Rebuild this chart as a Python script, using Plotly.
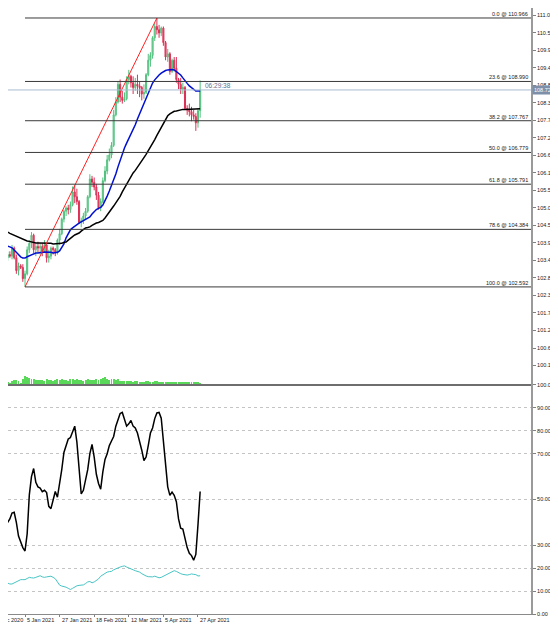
import plotly.graph_objects as go
import pandas as pd

# daily bars, 14 Dec 2020 .. 28 Apr 2021
dates = pd.bdate_range("2020-12-14", periods=98)

opens = [104.05, 103.95, 103.60, 103.55, 103.10, 103.35, 103.30, 103.65, 103.50, 103.60,
         103.55, 103.80, 103.50, 103.10, 103.25, 103.20, 102.85, 103.00, 103.75, 103.95,
         104.20, 103.75, 103.85, 103.80, 103.85, 103.70, 103.90, 103.50, 103.55, 103.80,
         103.75, 103.65, 104.05, 104.25, 104.70, 104.95, 105.05, 105.00, 105.15, 105.55,
         105.40, 105.25, 104.60, 104.65, 104.80, 104.95, 105.40, 105.95, 105.85, 105.70,
         105.45, 105.05, 105.25, 105.90, 106.20, 106.55, 106.70, 107.00, 107.95, 108.35,
         108.90, 108.50, 108.40, 108.45, 109.05, 109.15, 108.95, 108.80, 108.90, 108.85,
         108.80, 108.60, 108.65, 109.20, 109.65, 109.80, 110.35, 110.70, 110.60, 110.50,
         110.65, 110.20, 109.75, 109.85, 109.30, 109.65, 109.40, 109.05, 108.90, 108.75,
         108.80, 108.15, 108.10, 108.05, 107.95, 107.90, 107.70, 108.08]
highs = [104.20, 104.05, 103.80, 103.60, 103.45, 103.75, 103.70, 103.85, 103.70, 103.70,
         103.90, 103.85, 103.60, 103.35, 103.30, 103.30, 103.10, 103.85, 104.05, 104.30,
         104.25, 103.95, 104.00, 103.95, 103.95, 104.05, 103.95, 103.75, 103.85, 103.85,
         103.80, 104.10, 104.40, 104.75, 105.00, 105.10, 105.15, 105.25, 105.72, 105.75,
         105.65, 105.30, 104.75, 104.90, 105.05, 105.45, 106.10, 106.05, 106.00, 105.80,
         105.55, 105.35, 106.00, 106.35, 106.70, 106.90, 107.10, 108.10, 108.50, 109.00,
         109.05, 108.70, 108.65, 109.15, 109.35, 109.20, 109.15, 109.10, 109.20, 109.00,
         108.85, 108.90, 109.25, 109.85, 109.90, 110.40, 110.80, 110.966, 110.75, 110.70,
         110.70, 110.25, 110.00, 109.90, 109.70, 109.75, 109.75, 109.10, 109.10, 108.95,
         108.85, 108.25, 108.30, 108.20, 108.10, 108.00, 108.15, 109.02]
lows = [103.85, 103.55, 103.45, 102.95, 103.00, 103.15, 103.25, 103.45, 103.40, 103.50,
        103.45, 103.45, 103.00, 102.95, 103.15, 102.75, 102.592, 102.95, 103.65, 103.80,
        103.65, 103.55, 103.65, 103.60, 103.55, 103.65, 103.35, 103.35, 103.45, 103.60,
        103.55, 103.60, 103.90, 104.20, 104.60, 104.80, 104.85, 104.90, 105.10, 105.20,
        105.15, 104.55, 104.45, 104.55, 104.70, 104.90, 105.35, 105.70, 105.60, 105.30,
        105.00, 104.95, 105.20, 105.85, 106.10, 106.50, 106.60, 106.95, 107.90, 108.30,
        108.35, 108.30, 108.35, 108.40, 108.90, 108.80, 108.60, 108.70, 108.60, 108.50,
        108.40, 108.45, 108.60, 109.15, 109.45, 109.70, 110.25, 110.45, 110.35, 110.40,
        110.10, 109.65, 109.60, 109.20, 109.25, 109.30, 108.95, 108.75, 108.60, 108.60,
        108.10, 107.95, 107.90, 107.75, 107.80, 107.45, 107.55, 107.86]
closes = [103.95, 103.60, 103.55, 103.10, 103.35, 103.30, 103.65, 103.50, 103.60, 103.55,
          103.80, 103.50, 103.10, 103.25, 103.20, 102.85, 103.00, 103.75, 103.95, 104.20,
          103.75, 103.85, 103.80, 103.85, 103.70, 103.90, 103.50, 103.55, 103.80, 103.75,
          103.65, 104.05, 104.25, 104.70, 104.95, 105.05, 105.00, 105.15, 105.55, 105.40,
          105.25, 104.60, 104.65, 104.80, 104.95, 105.40, 105.95, 105.85, 105.70, 105.45,
          105.05, 105.25, 105.90, 106.20, 106.55, 106.70, 107.00, 107.95, 108.35, 108.90,
          108.50, 108.40, 108.45, 109.05, 109.15, 108.95, 108.80, 108.90, 108.85, 108.80,
          108.60, 108.65, 109.20, 109.65, 109.80, 110.35, 110.70, 110.60, 110.50, 110.65,
          110.20, 109.75, 109.85, 109.30, 109.65, 109.40, 109.05, 108.90, 108.75, 108.80,
          108.15, 108.10, 108.05, 107.95, 107.90, 107.70, 108.08, 108.725]

volumes = [90000, 95000, 100000, 105000, 85000, 80000, 95000, 90000, 60000, 40000,
           75000, 85000, 95000, 80000, 35000, 110000, 160000, 140000, 120000, 100000,
           105000, 95000, 90000, 85000, 95000, 70000, 100000, 90000, 85000, 80000,
           85000, 110000, 95000, 115000, 90000, 85000, 80000, 115000, 100000, 85000,
           110000, 90000, 85000, 80000, 95000, 105000, 90000, 95000, 85000, 100000,
           95000, 110000, 120000, 145000, 105000, 90000, 100000, 115000, 95000, 110000,
           80000, 75000, 70000, 80000, 75000, 70000, 60000, 65000, 70000, 60000,
           55000, 60000, 65000, 70000, 55000, 60000, 70000, 65000, 50000, 45000,
           55000, 60000, 55000, 60000, 50000, 55000, 60000, 55000, 50000, 45000,
           55000, 50000, 45000, 50000, 45000, 50000, 55000, 35000]

# moving averages as plotted (fast = blue, slow = black)
ma_fast = [104.05, 104.03, 104.00, 103.98, 103.96, 103.95, 103.91, 103.88, 103.87, 103.84,
           103.81, 103.74, 103.67, 103.59, 103.53, 103.49, 103.49, 103.53, 103.56, 103.59,
           103.62, 103.65, 103.65, 103.67, 103.67, 103.68, 103.68, 103.68, 103.67, 103.65,
           103.65, 103.67, 103.71, 103.81, 103.93, 104.12, 104.24, 104.37, 104.43, 104.49,
           104.55, 104.58, 104.62, 104.66, 104.71, 104.74, 104.77, 104.86, 104.94, 105.00,
           105.04, 105.07, 105.14, 105.27, 105.42, 105.58, 105.74, 105.92, 106.11, 106.33,
           106.55, 106.73, 106.92, 107.07, 107.20, 107.36, 107.51, 107.64, 107.82, 107.98,
           108.10, 108.29, 108.48, 108.63, 108.79, 108.94, 109.04, 109.13, 109.19, 109.25,
           109.30, 109.33, 109.35, 109.36, 109.36, 109.35, 109.30, 109.25, 109.19, 109.10,
           109.00, 108.93, 108.85, 108.79, 108.74, 108.69, 108.69, 108.69]
ma_slow = [104.56, 104.53, 104.50, 104.47, 104.44, 104.41, 104.37, 104.33, 104.30, 104.26,
           104.23, 104.19, 104.16, 104.13, 104.10, 104.07, 104.05, 104.02, 104.01, 103.99,
           103.98, 103.96, 103.96, 103.96, 103.95, 103.95, 103.95, 103.95, 103.95, 103.93,
           103.93, 103.93, 103.93, 103.95, 103.98, 103.99, 104.05, 104.12, 104.16, 104.21,
           104.24, 104.27, 104.33, 104.38, 104.43, 104.44, 104.46, 104.51, 104.55, 104.58,
           104.60, 104.63, 104.66, 104.74, 104.83, 104.90, 104.99, 105.11, 105.21, 105.30,
           105.41, 105.55, 105.67, 105.78, 105.92, 106.05, 106.14, 106.22, 106.33, 106.42,
           106.51, 106.62, 106.72, 106.83, 106.93, 107.06, 107.18, 107.31, 107.43, 107.57,
           107.70, 107.82, 107.92, 107.98, 108.02, 108.06, 108.07, 108.09, 108.10, 108.12,
           108.12, 108.12, 108.12, 108.12, 108.12, 108.12, 108.13, 108.14]

# lower window oscillators
osc_main = [35, 31, 28, 28.5, 29, 31, 34, 40.5, 40, 41.5,
            44.1, 44.4, 40, 34, 31.5, 29, 27.5, 35, 52, 60,
            63.5, 57.5, 55.5, 55, 53.4, 54, 53, 47, 46, 50.5,
            53.5, 51, 56.5, 63, 70.5, 74, 76.4, 77, 79.5, 82,
            75, 62, 52.4, 54, 58.5, 63, 70, 74, 68.5, 61,
            57, 54.5, 62, 67.5, 70, 73.5, 75.5, 77.5, 82, 85,
            87.5, 88, 85, 82, 83, 84.5, 82, 81.2, 79, 75.5,
            71.5, 67, 68.5, 73.5, 79, 81.2, 85.3, 87.8, 88, 85.5,
            76, 66, 55.5, 51.8, 53.2, 51.8, 49, 41.5, 37.5, 37.1,
            32.5, 29, 26.5, 25.5, 23.5, 26, 39, 53.5]
osc_signal = [17.5, 17.0, 16.5, 16.0, 15.6, 15.4, 14.2, 13.8, 13.4, 13.1,
              13.1, 13.5, 14.0, 14.5, 15.0, 15.0, 15.0, 15.5, 16.0, 15.8,
              15.7, 16.0, 16.4, 16.7, 16.2, 16.0, 16.2, 16.4, 16.5, 16.0,
              15.4, 14.0, 12.6, 12.2, 12.0, 11.7, 11.2, 10.7, 11.2, 11.8,
              12.3, 12.5, 12.6, 12.7, 13.3, 14.0, 14.2, 13.6, 14.0, 14.5,
              15.3, 16.5, 17.2, 17.8, 18.3, 18.5, 18.6, 19.3, 19.8, 20.2,
              20.5, 20.8, 21.0, 20.5, 20.2, 19.8, 19.3, 18.9, 18.6, 18.3,
              17.6, 17.0, 16.6, 16.3, 16.1, 16.2, 16.5, 16.2, 15.8, 16.0,
              16.5, 17.0, 17.6, 18.0, 18.5, 18.9, 18.6, 18.0, 17.6, 17.3,
              17.1, 17.0, 17.2, 17.5, 17.3, 17.2, 16.6, 16.7]

fib_ratios = [0.0, 23.6, 38.2, 50.0, 61.8, 78.6, 100.0]
fib_high = 110.966
fib_low = 102.592

price_ticks = [100.145, 100.690, 101.235, 101.780, 102.325, 102.870, 103.415, 103.960,
               104.505, 105.050, 105.595, 106.140, 106.685, 107.230, 107.775, 108.320,
               108.865, 109.410, 109.955, 110.500, 111.045]
osc_ticks = [0, 10, 20, 30, 50, 70, 80, 90, 100]
label_dates = ["2020-12-14", "2021-01-05", "2021-01-27", "2021-02-18", "2021-03-12",
               "2021-04-05", "2021-04-27"]
countdown = "06:29:38"

FONT = "Liberation Sans"
X_RANGE = [8.14, 250.0]
PRICE_RANGE = [99.540, 111.277]
SPLIT = 0.378

x = list(range(len(dates)))
i_low = lows.index(min(lows))
i_high = highs.index(max(highs))

fig = go.Figure()

# volumes at the bottom of the main window
fig.add_trace(go.Bar(
    x=x, y=volumes, width=0.45, marker_color="#5ad85a", marker_line_width=0,
    xaxis="x", yaxis="y3", hoverinfo="skip"
))

fig.add_trace(go.Candlestick(
    x=x, open=opens, high=highs, low=lows, close=closes,
    increasing=dict(line=dict(color="#52c07e", width=1), fillcolor="#94dbad"),
    decreasing=dict(line=dict(color="#dc2f55", width=1), fillcolor="#e8607e"),
    xaxis="x", yaxis="y"
))

fig.add_trace(go.Scatter(x=x, y=ma_fast, mode="lines",
                         line=dict(color="#0010d0", width=1.5), xaxis="x", yaxis="y"))
fig.add_trace(go.Scatter(x=x, y=ma_slow, mode="lines",
                         line=dict(color="#000000", width=1.5), xaxis="x", yaxis="y"))

# trend line of the swing
fig.add_trace(go.Scatter(x=[i_low, i_high], y=[lows[i_low], highs[i_high]], mode="lines",
                         line=dict(color="#ff2020", width=1), xaxis="x", yaxis="y"))

fig.add_trace(go.Scatter(x=x, y=osc_main, mode="lines",
                         line=dict(color="#000000", width=1.5), xaxis="x2", yaxis="y2"))
fig.add_trace(go.Scatter(x=x, y=osc_signal, mode="lines",
                         line=dict(color="#48c4c4", width=1), xaxis="x2", yaxis="y2"))

shapes = []
annotations = []

# fibonacci levels
for r in fib_ratios:
    lvl = fib_high - r / 100 * (fib_high - fib_low)
    shapes.append(dict(type="line", xref="x", yref="y", x0=i_low, x1=X_RANGE[1], y0=lvl, y1=lvl,
                       line=dict(color="#3a3a3a", width=1)))
    annotations.append(dict(xref="paper", yref="y", x=1, y=lvl, xanchor="right", yanchor="bottom",
                            xshift=-1, yshift=-1, showarrow=False, text=f"{r:.1f} @ {lvl:.3f}",
                            font=dict(family=FONT, size=5.5, color="#202020")))

# current price line, label and bar countdown
last = closes[-1]
shapes.append(dict(type="line", xref="paper", yref="y", x0=0, x1=1, y0=last, y1=last,
                   line=dict(color="#a9bbd2", width=1)))
annotations.append(dict(xref="paper", yref="y", x=1, y=last, xanchor="left", yanchor="middle",
                        xshift=1, showarrow=False, text=f"{last:.3f}", bgcolor="#7d8fa9",
                        borderpad=1, font=dict(family=FONT, size=5.5, color="#ffffff")))
annotations.append(dict(xref="x", yref="y", x=x[-1], y=last, xanchor="left", yanchor="bottom",
                        xshift=3, yshift=-1, showarrow=False, text=countdown,
                        font=dict(family=FONT, size=6.5, color="#5e7090")))

# window separator
shapes.append(dict(type="line", xref="paper", yref="paper", x0=0, x1=1, y0=SPLIT, y1=SPLIT,
                   line=dict(color="#6e6e6e", width=2)))

# date labels start at their bar (the first one is cut by the left edge)
span = X_RANGE[1] - X_RANGE[0]
for d in label_dates:
    i = dates.get_loc(pd.Timestamp(d))
    annotations.append(dict(xref="paper", yref="paper", x=(i - X_RANGE[0]) / span, y=0,
                            xanchor="left", yanchor="top", yshift=-1, showarrow=False,
                            text=f"{dates[i].day} {dates[i]:%b %Y}",
                            font=dict(family=FONT, size=5.5, color="#202020")))

tick_idx = [dates.get_loc(pd.Timestamp(d)) for d in label_dates]

fig.update_layout(
    width=550, height=617,
    margin=dict(l=0, r=27, t=0, b=11),
    template="none",
    paper_bgcolor="white", plot_bgcolor="white",
    showlegend=False,
    shapes=shapes,
    annotations=annotations,
    bargap=0,
    xaxis=dict(domain=[0, 1], range=X_RANGE, anchor="y", showticklabels=False, ticks="",
               showgrid=False, zeroline=False, rangeslider=dict(visible=False)),
    xaxis2=dict(domain=[0, 1], range=X_RANGE, anchor="y2", matches="x",
                tickvals=tick_idx, showticklabels=False,
                ticks="outside", ticklen=2, tickcolor="#808080",
                showgrid=False, zeroline=False, showline=True, linecolor="#8a8a8a", linewidth=1),
    yaxis=dict(domain=[SPLIT, 1], range=PRICE_RANGE, side="right", anchor="x",
               tickvals=price_ticks, ticktext=[f"{v:.3f}" for v in price_ticks],
               ticks="outside", ticklen=3, tickcolor="#808080",
               tickfont=dict(family=FONT, size=5.5, color="#202020"),
               showgrid=False, zeroline=False, showline=True, linecolor="#9a9a9a", linewidth=2),
    yaxis2=dict(domain=[0, SPLIT], range=[0, 100], side="right", anchor="x2",
                tickvals=osc_ticks, ticktext=[f"{v:.2f}" for v in osc_ticks],
                ticks="outside", ticklen=3, tickcolor="#808080",
                tickfont=dict(family=FONT, size=5.5, color="#202020"),
                showgrid=True, gridcolor="#c4c4c4", griddash="dot", gridwidth=1,
                zeroline=False, showline=True, linecolor="#9a9a9a", linewidth=2),
    yaxis3=dict(overlaying="y", range=[0, 6900000], visible=False),
)

fig.write_html("out.html")
